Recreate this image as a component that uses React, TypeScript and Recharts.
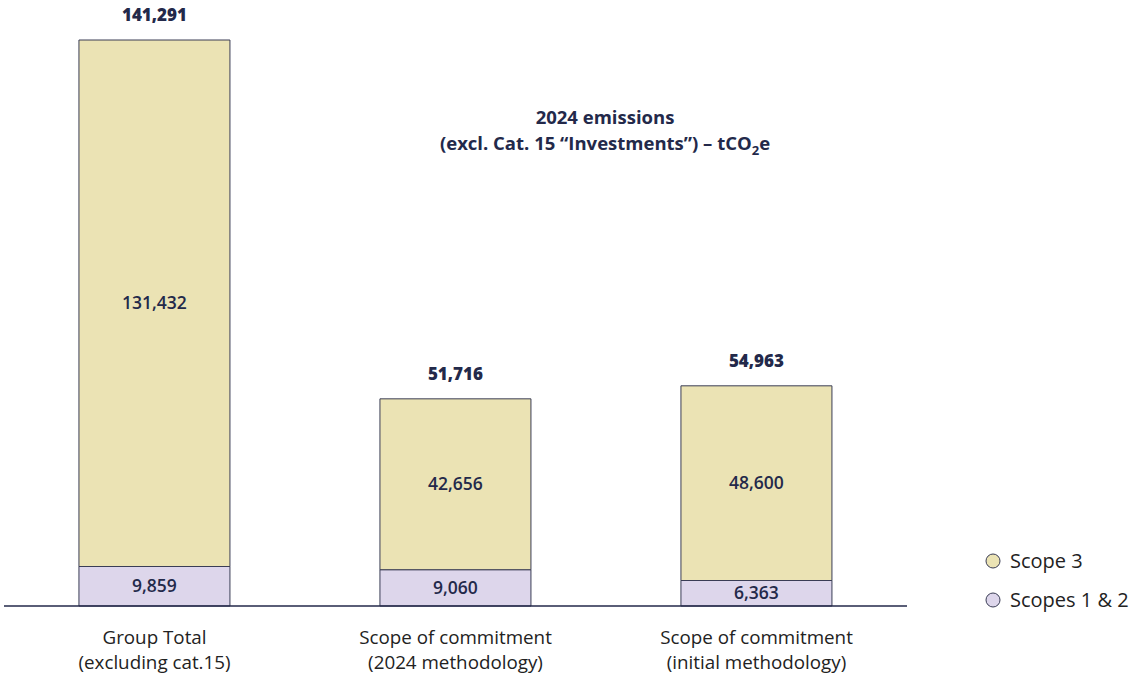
import { BarChart, Bar, XAxis, YAxis, LabelList } from 'recharts';

const categories = ['Group Total|(excluding cat.15)', 'Scope of commitment|(2024 methodology)', 'Scope of commitment|(initial methodology)'];
const scopes12 = [9859, 9060, 6363];
const scope3 = [131432, 42656, 48600];
const totals = [141291, 51716, 54963];

const data = categories.map((name, i) => ({
  name,
  scopes12: scopes12[i],
  scope3: scope3[i],
  total: totals[i],
}));

const NAVY = '#23294a';
const FONT = '"Open Sans", "Noto Sans", sans-serif';
const fmt = (v: number) => v.toLocaleString('en-US');

const CategoryTick = (props: any) => {
  const { x, y, payload } = props;
  const lines = String(payload.value).split('|');
  return (
    <g transform={`translate(${x},${y})`}>
      {lines.map((line, i) => (
        <text key={i} x={0} y={30 + i * 25} textAnchor="middle" fill="#222" fontSize={18.8} fontFamily={FONT}>
          {line}
        </text>
      ))}
    </g>
  );
};

const InsideLabel = (props: any) => {
  const { x, y, width, height, value } = props;
  return (
    <text x={x + width / 2} y={y + height / 2 + 6} textAnchor="middle" fill={NAVY} fontSize={17.5} fontWeight={600} fontFamily={FONT}>
      {fmt(value)}
    </text>
  );
};

const TotalLabel = (props: any) => {
  const { x, y, width, index } = props;
  return (
    <text x={x + width / 2} y={y - 19} textAnchor="middle" fill={NAVY} fontSize={17} fontWeight={800} fontFamily={FONT}>
      {fmt(totals[index])}
    </text>
  );
};

const legendItems = [
  { label: 'Scope 3', color: '#ebe3b4' },
  { label: 'Scopes 1 & 2', color: '#ddd6eb' },
];

export default function App() {
  return (
    <div style={{ position: 'absolute', left: 0, top: 0, width: 1129, height: 677, background: '#fff' }}>
      <BarChart width={1129} height={677} data={data} margin={{ top: 40, right: 222, left: 4, bottom: 0 }} barCategoryGap="24.9%">
        <XAxis
          dataKey="name"
          height={71}
          axisLine={{ stroke: NAVY, strokeWidth: 1.5 }}
          tickLine={false}
          tick={<CategoryTick />}
          interval={0}
        />
        <YAxis hide width={0} domain={[0, 141291]} />
        <Bar dataKey="scopes12" stackId="a" fill="#ddd6eb" stroke="#3a3d55" strokeWidth={1} isAnimationActive={false}>
          <LabelList dataKey="scopes12" content={<InsideLabel />} />
        </Bar>
        <Bar dataKey="scope3" stackId="a" fill="#ebe3b4" stroke="#3a3d55" strokeWidth={1} isAnimationActive={false}>
          <LabelList dataKey="scope3" content={<InsideLabel />} />
          <LabelList dataKey="total" content={<TotalLabel />} />
        </Bar>
      </BarChart>
      <div style={{ position: 'absolute', left: 984, top: 541, width: 145, fontFamily: FONT }}>
        {legendItems.map((it) => (
          <div key={it.label} style={{ display: 'flex', alignItems: 'center', height: 39, fontSize: 20, color: '#222' }}>
            <svg width={18} height={18} style={{ marginRight: 8 }}>
              <circle cx={9} cy={9} r={7} fill={it.color} stroke="#3a3d55" strokeWidth={1} />
            </svg>
            {it.label}
          </div>
        ))}
      </div>
      <div
        style={{
          position: 'absolute',
          left: 355,
          top: 104,
          width: 500,
          textAlign: 'center',
          fontFamily: FONT,
          fontWeight: 700,
          fontSize: 18.5,
          lineHeight: '26px',
          color: NAVY,
        }}
      >
        2024 emissions
        <br />
        (excl. Cat. 15 “Investments”) – tCO<sub style={{ fontSize: 13, lineHeight: 0 }}>2</sub>e
      </div>
    </div>
  );
}
